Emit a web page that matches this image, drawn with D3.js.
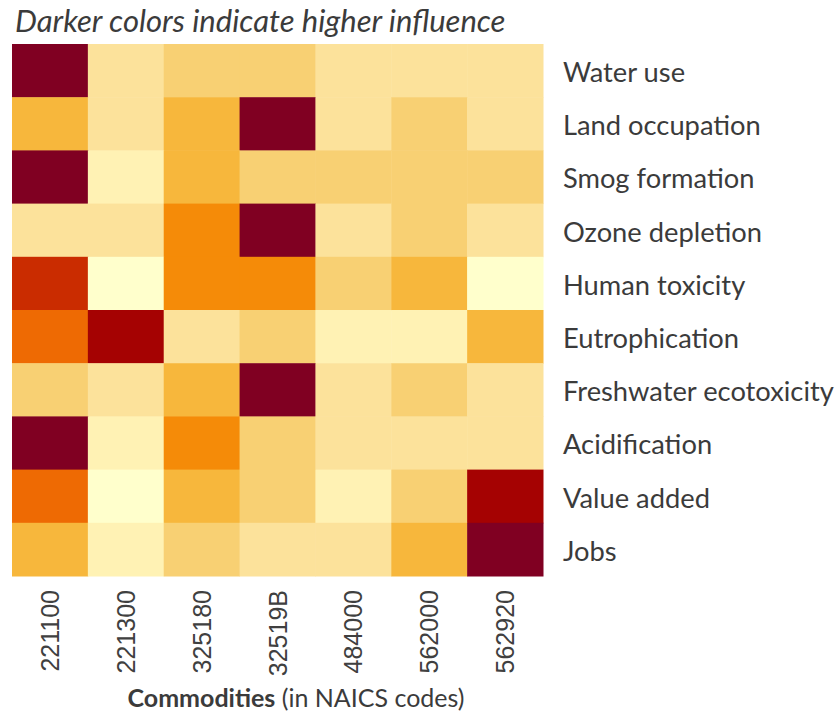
<!DOCTYPE html>
<html>
<head>
<meta charset="utf-8">
<script src="https://cdn.jsdelivr.net/npm/d3@7"></script>
<style>
    body { margin: 0; background: #fff; }
    svg { display: block; }
</style>
</head>
<body>
<svg id="canvas" width="836" height="712"></svg>
<script>
const svg = d3.select("#canvas");

// Column and row categories
const commodities = ["221100", "221300", "325180", "32519B", "484000", "562000", "562920"];
const impacts = ["Water use", "Land occupation", "Smog formation", "Ozone depletion", "Human toxicity",
    "Eutrophication", "Freshwater ecotoxicity", "Acidification", "Value added", "Jobs"];

// Influence level (1 = lowest, 10 = highest), one row per impact, one value per commodity
const waterUse        = [10, 3, 4, 4, 3, 3, 3];
const landOccupation  = [5, 3, 5, 10, 3, 4, 3];
const smogFormation   = [10, 2, 5, 4, 4, 4, 4];
const ozoneDepletion  = [3, 3, 6, 10, 3, 4, 3];
const humanToxicity   = [8, 1, 6, 6, 4, 5, 1];
const eutrophication  = [7, 9, 3, 4, 2, 2, 5];
const freshwaterEco   = [4, 3, 5, 10, 3, 4, 3];
const acidification   = [10, 2, 6, 4, 3, 3, 3];
const valueAdded      = [7, 1, 5, 4, 2, 4, 9];
const jobs            = [5, 2, 4, 3, 3, 5, 10];

const levels = [waterUse, landOccupation, smogFormation, ozoneDepletion, humanToxicity,
    eutrophication, freshwaterEco, acidification, valueAdded, jobs];

const levelDomain = [1, 2, 3, 4, 5, 6, 7, 8, 9, 10];
const levelColors = ["#ffffcc", "#fff2b4", "#fce29b", "#f8d073", "#f7b73c",
    "#f58b08", "#ee6a03", "#ca2c00", "#a50202", "#800022"];

const titleText = "Darker colors indicate higher influence";

// Layout
const plot = { left: 12, top: 44, right: 543, bottom: 576 };
const textColor = "#3b3b3b";
const bodyFont = "Lato, 'Open Sans', sans-serif";

const x = d3.scaleBand().domain(commodities).range([plot.left, plot.right]);
const y = d3.scaleBand().domain(impacts).range([plot.top, plot.bottom]);
const color = d3.scaleOrdinal().domain(levelDomain).range(levelColors);

// Flatten the matrix into cells
const cells = [];
levels.forEach((row, i) => {
    row.forEach((v, j) => {
        cells.push({ impact: impacts[i], commodity: commodities[j], level: v });
    });
});

svg.append("g")
    .selectAll("rect")
    .data(cells)
    .enter()
    .append("rect")
    .attr("x", d => x(d.commodity))
    .attr("y", d => y(d.impact))
    .attr("width", x.bandwidth() + 0.5)
    .attr("height", y.bandwidth() + 0.5)
    .attr("fill", d => color(d.level));

// Title
svg.append("text")
    .attr("x", 15)
    .attr("y", 32)
    .attr("font-family", bodyFont)
    .attr("font-style", "italic")
    .attr("font-size", 31)
    .attr("fill", textColor)
    .text(titleText);

// Row labels on the right
const yAxis = svg.append("g")
    .attr("transform", `translate(${plot.right},0)`)
    .call(d3.axisRight(y).tickSize(0).tickPadding(20));
yAxis.select(".domain").remove();
yAxis.selectAll("text")
    .attr("font-family", bodyFont)
    .attr("font-size", 27.3)
    .attr("dy", "0.42em")
    .attr("fill", textColor);

// Column labels, rotated
const xAxis = svg.append("g")
    .attr("transform", `translate(0,${plot.bottom})`)
    .call(d3.axisBottom(x).tickSize(0).tickPadding(0));
xAxis.select(".domain").remove();
xAxis.selectAll("text")
    .attr("font-family", "'Liberation Sans', Arial, sans-serif")
    .attr("font-size", 25)
    .attr("fill", "#404040")
    .attr("text-anchor", "end")
    .attr("y", 0)
    .attr("dy", "0.36em")
    .attr("transform", "translate(0,14) rotate(-90)");

// Axis title
const axisTitle = svg.append("text")
    .attr("x", 296)
    .attr("y", 707)
    .attr("text-anchor", "middle")
    .attr("font-family", bodyFont)
    .attr("font-size", 25)
    .attr("fill", textColor);
axisTitle.append("tspan").attr("font-weight", "bold").text("Commodities");
axisTitle.append("tspan").text(" (in NAICS codes)");
</script>
</body>
</html>
